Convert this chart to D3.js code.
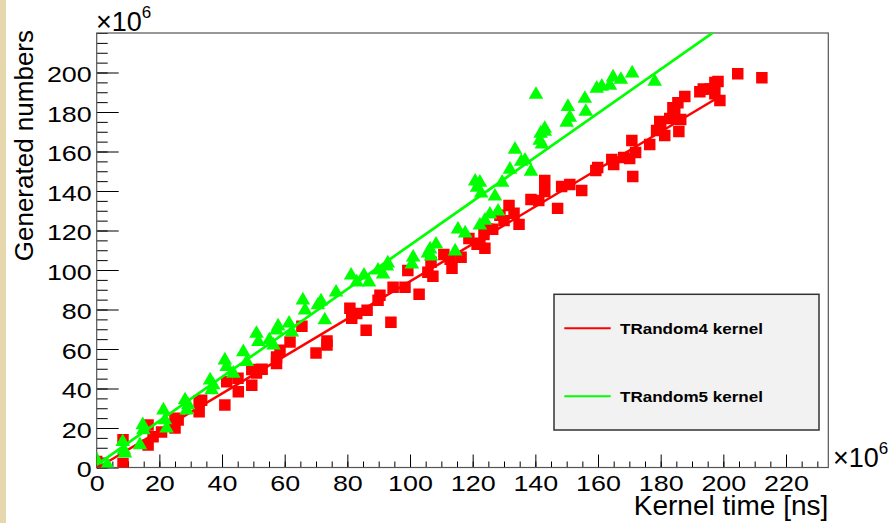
<!DOCTYPE html>
<html>
<head>
<meta charset="utf-8">
<script src="https://cdn.jsdelivr.net/npm/d3@7"></script>
<style>
  body { margin: 0; background: #fff; }
  text { font-family: "Liberation Sans", Arial, sans-serif; fill: #000; }
</style>
</head>
<body>
<div id="chart"></div>
<script>
// data (units of 1e6)
const redPoints = [[0,3],[8.4,14],[8.4,2],[16.4,21.5],[16.4,11.4],[18,15.6],[20.7,18],[24.4,21.5],[25,25],[25,20],[26,24],
  [32.7,33.8],[32.7,28.2],[33.5,34],[40.9,31.6],[41.5,43.4],[45.1,45.2],[45.2,38.3],[49.5,41.7],[49.5,49.6],[51,47.9],
  [52.8,49.8],[57.4,52.7],[57.4,56],[58.5,59.4],[61.7,63.6],[65.5,71.5],[70,58],[73.5,64],[73.5,62],[80.8,80.6],[81.4,75.6],
  [83,78],[86,69.5],[86.3,79.6],[89.8,84.7],[90.4,87.2],[93.9,73.5],[94.6,91.3],[98.4,91.3],[99.3,99.8],[102.9,87.7],
  [105.7,98.8],[106.7,103.9],[107.3,96.8],[110.8,107.9],[112.8,105.4],[113.4,100.9],[116.3,106.4],[118.8,116],[121.4,113],
  [122.3,113.5],[123.6,118],[123.9,111],[124.8,120.6],[126.4,120.6],[128.7,127.7],[130,125],[131.6,132.7],[133.2,128.7],
  [134.8,123.1],[138.6,135.7],[141.1,135.2],[143,145.3],[143,139.8],[147.1,131.2],[148.4,142.3],[151,143.3],[154.8,140.3],
  [159.3,150.4],[159.9,151.9],[164.4,156],[165,153.4],[168.2,157],[170.1,156.5],[170.8,165.6],[171.1,147.4],[172,159.5],
  [176.5,163.6],[178.7,170.6],[179.7,175.2],[180,172.6],[181.3,168.1],[182.9,176.7],[183.9,182.2],[184.5,179.7],[185.5,184.7],
  [185.8,170.1],[186.4,176.2],[187.7,187.8],[192.5,190.3],[193.6,191.7],[195.8,191.7],[197.3,194.9],[198.3,195.4],
  [198.9,185.8],[197.3,189.3],[204.6,199.4],[212.3,197.4]];

const greenPoints = [[0,3.8],[3.4,1.3],[8.3,13],[8.7,8.8],[9,7.2],[13.8,11.4],[14.7,21.5],[14.9,19],[21.3,29],[21.8,24],
  [22.3,19.8],[28.2,34.1],[28.7,29],[29.2,31.6],[36.2,44.2],[36.7,39.2],[37.2,41.7],[40.9,54.3],[41.5,51],[43.6,47.6],
  [46.8,58.5],[47.9,53.5],[51,67.8],[51.6,63.6],[55.1,64.5],[56.4,61.9],[57.4,69.5],[57.9,71.5],[61.4,73],[62.3,68.5],
  [65.8,84.7],[66.5,79.6],[70.6,82.2],[71.6,84.2],[72.8,74.6],[76.4,88.7],[81.2,97.3],[83,93.8],[85.3,97.3],[86.9,93.8],
  [89.8,99.8],[91.4,97.8],[92.6,101.9],[92.9,103.4],[100.6,102.9],[101,106.4],[105.7,108.4],[106.4,110.5],[106.7,106.9],
  [108.3,113],[114.4,109.5],[115.3,120.6],[117.6,118.6],[120.8,144.9],[121.4,141.8],[122.3,144.3],[122.7,138.8],
  [122.3,122.6],[123.9,125.1],[125.5,128.2],[127.1,137.3],[128.1,129.7],[129.4,144.3],[131.9,150.9],[133.5,161],
  [135.5,154.9],[136.7,155.5],[138.6,149.9],[140.2,188.8],[141.4,165.6],[141.7,169.1],[142.1,163.6],[143,170.1],
  [143,171.6],[150,174.7],[150.4,182.7],[151,177.2],[155.8,186.8],[156.1,180.2],[159.6,191.9],[161.2,192.9],
  [163.8,193.4],[164.8,197.6],[167.3,196.4],[170.9,199.6],[178.1,195.4]];

// straight-line fits (end points)
const redFit = [[1, 0.5], [199, 188]];
const greenFit = [[0, 1.3], [210, 235]];

const xMajor = [0, 20, 40, 60, 80, 100, 120, 140, 160, 180, 200, 220];
const yMajor = [0, 20, 40, 60, 80, 100, 120, 140, 160, 180, 200];
const legendItems = ["TRandom4 kernel", "TRandom5 kernel"];
const colors = ["#ff0000", "#00ff00"];

const width = 891, height = 523;
const frame = { left: 96.7, right: 828.3, top: 33, bottom: 467.5 };

const svg = d3.select("#chart").append("svg")
  .attr("width", width).attr("height", height);

svg.append("rect").attr("width", width).attr("height", height).attr("fill", "#fff");
// beige strip on the left
svg.append("rect").attr("x", 0).attr("y", 0).attr("width", 6).attr("height", height).attr("fill", "#e6d7ad");

const x = d3.scaleLinear().domain([0, 233.5]).range([frame.left, frame.right]);
const y = d3.scaleLinear().domain([0, 220]).range([frame.bottom, frame.top]);

svg.append("clipPath").attr("id", "clip").append("rect")
  .attr("x", frame.left).attr("y", frame.top)
  .attr("width", frame.right - frame.left).attr("height", frame.bottom - frame.top);

// --- axes (ticks point inward) ---
const xMinor = d3.range(0, 234, 5);
const yMinor = d3.range(0, 221, 5);

svg.append("g").attr("transform", `translate(0,${frame.bottom})`)
  .call(d3.axisBottom(x).tickValues(xMinor).tickSize(-6).tickSizeOuter(0).tickFormat(""))
  .call(g => g.select(".domain").remove());
svg.append("g").attr("transform", `translate(${frame.left},0)`)
  .call(d3.axisLeft(y).tickValues(yMinor).tickSize(-11).tickSizeOuter(0).tickFormat(""))
  .call(g => g.select(".domain").remove());

const xAxis = svg.append("g").attr("transform", `translate(0,${frame.bottom})`)
  .call(d3.axisBottom(x).tickValues(xMajor).tickSize(-13).tickSizeOuter(0).tickPadding(8));
xAxis.select(".domain").remove();
xAxis.selectAll("text")
  .style("font-size", "21.5px")
  .attr("transform", "scale(1.25,1)");

const yAxis = svg.append("g").attr("transform", `translate(${frame.left},0)`)
  .call(d3.axisLeft(y).tickValues(yMajor).tickSize(-22).tickSizeOuter(0).tickPadding(4));
yAxis.select(".domain").remove();
yAxis.selectAll("text")
  .attr("dy", "0.42em")
  .style("font-size", "21.5px")
  .attr("transform", "scale(1.25,1)");

svg.selectAll(".tick line").attr("stroke", "#000").attr("stroke-width", 1);

// frame
svg.append("rect")
  .attr("x", frame.left).attr("y", frame.top)
  .attr("width", frame.right - frame.left).attr("height", frame.bottom - frame.top)
  .attr("fill", "none").attr("stroke", "#555").attr("stroke-width", 1.2);

// --- data ---
const plot = svg.append("g").attr("clip-path", "url(#clip)");
const line = d3.line().x(d => x(d[0])).y(d => y(d[1]));

plot.selectAll(".red").data(redPoints).enter().append("path")
  .attr("class", "red")
  .attr("d", d3.symbol(d3.symbolSquare, 132)())
  .attr("transform", d => `translate(${x(d[0])},${y(d[1])})`)
  .attr("fill", colors[0]);

plot.append("path").attr("d", line(redFit))
  .attr("fill", "none").attr("stroke", colors[0]).attr("stroke-width", 2.5);

plot.selectAll(".green").data(greenPoints).enter().append("path")
  .attr("class", "green")
  .attr("d", d3.symbol(d3.symbolTriangle, 92)())
  .attr("transform", d => `translate(${x(d[0])},${y(d[1])})`)
  .attr("fill", colors[1]);

plot.append("path").attr("d", line(greenFit))
  .attr("fill", "none").attr("stroke", colors[1]).attr("stroke-width", 2.7);

// --- exponent labels ---
const expTop = svg.append("text").attr("x", 96).attr("y", 31).style("font-size", "27px");
expTop.append("tspan").text("×10");
expTop.append("tspan").attr("dy", -13).style("font-size", "17px").text("6");

const expRight = svg.append("text").attr("x", 833).attr("y", 467).style("font-size", "27px");
expRight.append("tspan").text("×10");
expRight.append("tspan").attr("dy", -13).style("font-size", "17px").text("6");

// --- axis titles ---
svg.append("text")
  .attr("x", frame.right).attr("y", 515)
  .attr("text-anchor", "end")
  .style("font-size", "28px")
  .text("Kernel time [ns]");

svg.append("text")
  .attr("transform", `translate(33,${frame.top - 3}) rotate(-90)`)
  .attr("text-anchor", "end")
  .style("font-size", "26px")
  .text("Generated numbers");

// --- legend ---
const legend = svg.append("g");
legend.append("rect")
  .attr("x", 554).attr("y", 294.3).attr("width", 265).attr("height", 135.7)
  .attr("fill", "#f2f2f2").attr("stroke", "#333").attr("stroke-width", 1.5);

const rows = legend.selectAll(".row").data(legendItems).enter().append("g")
  .attr("transform", (d, i) => `translate(0,${328.3 + i * 68})`);
rows.append("line")
  .attr("x1", 564.3).attr("x2", 610.7).attr("y1", 0).attr("y2", 0)
  .attr("stroke", (d, i) => colors[i]).attr("stroke-width", 2);
rows.append("text")
  .attr("x", 620).attr("y", 5.5)
  .attr("transform", "translate(620,0) scale(1.1,1) translate(-620,0)")
  .style("font-size", "15.5px").style("font-weight", "bold")
  .text(d => d);
</script>
</body>
</html>
